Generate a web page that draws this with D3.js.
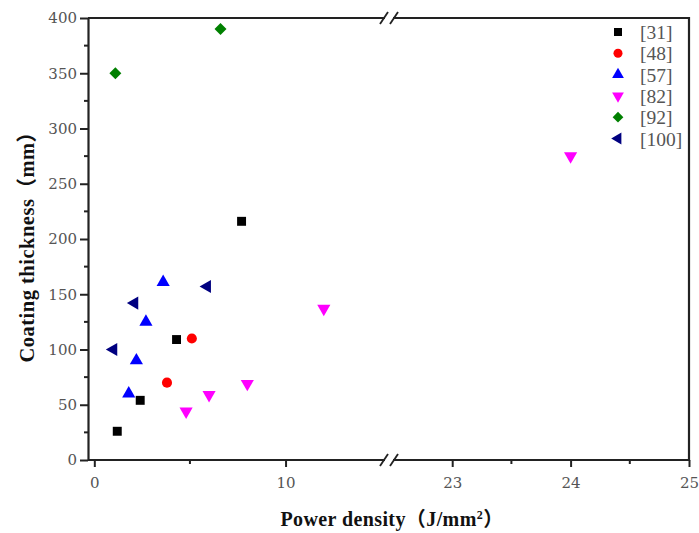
<!DOCTYPE html>
<html><head><meta charset="utf-8">
<script src="https://cdn.jsdelivr.net/npm/d3@7/dist/d3.min.js"></script>
<style>body{margin:0;background:#fff}svg{display:block}</style>
</head><body><svg id="c" width="699" height="533"></svg>
<script>
const seriesNames = ["[31]","[48]","[57]","[82]","[92]","[100]"];
const seriesColors = ["#000000","#ff0000","#0000ff","#ff00ff","#008000","#000080"];
const s31 = [[1.2,26],[2.4,54],[4.3,109],[7.7,216]];
const s48 = [[3.8,70],[5.1,110]];
const s57 = [[1.8,60],[2.2,90],[2.7,125],[3.6,161]];
const s82 = [[4.8,44],[6.0,59],[8.0,69],[12.0,137],[24.0,275]];
const s92 = [[1.1,350],[6.6,390]];
const s100 = [[1.0,100],[2.1,142],[5.9,157]];
const yTicks = [0,50,100,150,200,250,300,350,400];
const xTicksLeft = [0,10];
const xTicksRight = [23,24,25];

(function(){
const allSeries = [s31,s48,s57,s82,s92,s100];
const svg = d3.select("#c");
const pL = 88, pT = 18, pB = 460, pR = 689;
const breakL = 385, breakR = 392;
const xL = d3.scaleLinear().domain([-0.33,15.2]).range([pL,breakL]);
const xR = d3.scaleLinear().domain([22.5,25]).range([393,pR]);
const y = d3.scaleLinear().domain([0,400]).range([pB,pT]);
const xPos = v => v <= 16 ? xL(v) : xR(v);

const tickFont = "'DejaVu Serif', serif";
const gray = "#555";
const titleFont = "'Liberation Serif', 'Noto Sans CJK SC', serif";

const yAxis = d3.axisLeft(y).tickValues(yTicks).tickSize(8).tickSizeOuter(0).tickPadding(3);
const gy = svg.append("g").attr("transform",`translate(${pL},0)`).call(yAxis);
gy.selectAll("text").attr("font-family",tickFont).attr("font-size",15).attr("fill",gray);
gy.selectAll("line").attr("stroke","#222").attr("stroke-width",2);
gy.select(".domain").attr("stroke","#222").attr("stroke-width",2.2);
const yMinor = d3.range(25,400,50);
svg.append("g").selectAll("line").data(yMinor).join("line")
  .attr("x1",pL-4).attr("x2",pL).attr("y1",d=>y(d)).attr("y2",d=>y(d))
  .attr("stroke","#222").attr("stroke-width",2);

function styleX(g){
  g.selectAll("text").attr("font-family",tickFont).attr("font-size",15).attr("fill",gray);
  g.selectAll("line").attr("stroke","#222").attr("stroke-width",2);
  g.select(".domain").remove();
}
const gxl = svg.append("g").attr("transform",`translate(0,${pB})`)
  .call(d3.axisBottom(xL).tickValues(xTicksLeft).tickSize(7).tickPadding(10).tickFormat(d3.format("d")));
styleX(gxl);
const gxr = svg.append("g").attr("transform",`translate(0,${pB})`)
  .call(d3.axisBottom(xR).tickValues(xTicksRight).tickSize(7).tickPadding(10).tickFormat(d3.format("d")));
styleX(gxr);
const xMinor = [5,23.5,24.5];
svg.append("g").selectAll("line").data(xMinor).join("line")
  .attr("x1",d=>xPos(d)).attr("x2",d=>xPos(d)).attr("y1",pB).attr("y2",pB+4)
  .attr("stroke","#222").attr("stroke-width",2);

const frame = svg.append("g").attr("stroke","#222").attr("stroke-width",2.2).attr("fill","none");
[pB, pT].forEach(yy=>{
  frame.append("line").attr("x1",pL).attr("x2",breakL).attr("y1",yy).attr("y2",yy);
  frame.append("line").attr("x1",breakR+1).attr("x2",pR).attr("y1",yy).attr("y2",yy);
  [breakL-1, breakR+2].forEach(bx=>{
    frame.append("line").attr("x1",bx-4).attr("x2",bx+4).attr("y1",yy+6).attr("y2",yy-6).attr("stroke-width",1.8);
  });
});
frame.append("line").attr("x1",pR).attr("x2",pR).attr("y1",pT-1).attr("y2",pB+1);

const shapes = [
  {t:d3.symbolSquare, s:80, r:0},
  {t:d3.symbolCircle, s:80, r:0},
  {t:d3.symbolTriangle, s:75, r:0},
  {t:d3.symbolTriangle, s:75, r:180},
  {t:d3.symbolSquare, s:72, r:45},
  {t:d3.symbolTriangle, s:75, r:-90}
];
allSeries.forEach((data,i)=>{
  const sh = shapes[i];
  svg.append("g").selectAll("path").data(data).join("path")
    .attr("d", d3.symbol().type(sh.t).size(sh.s))
    .attr("transform", d=>`translate(${xPos(d[0])},${y(d[1])}) rotate(${sh.r})`)
    .attr("fill", seriesColors[i]);
});

const lg = svg.append("g");
seriesNames.forEach((n,i)=>{
  const sh = shapes[i];
  const ly = 32 + i*21.3;
  lg.append("path").attr("d", d3.symbol().type(sh.t).size(sh.s*0.8))
    .attr("transform",`translate(618,${ly}) rotate(${sh.r})`).attr("fill",seriesColors[i]);
  lg.append("text").attr("x",640).attr("y",ly).attr("dy","0.36em")
    .attr("font-family","'Liberation Serif', serif").attr("font-size",19.5).attr("fill",gray).text(n);
});

svg.append("text").attr("x",392).attr("y",526).attr("text-anchor","middle")
  .attr("font-family",titleFont).attr("font-weight","bold").attr("font-size",20)
  .attr("letter-spacing","0.4").attr("fill","#111")
  .html('Power density（J/mm<tspan dy="-7" font-size="12">2</tspan><tspan dy="7">）</tspan>');
svg.append("text").attr("transform","translate(34,242) rotate(-90)").attr("text-anchor","middle")
  .attr("font-family",titleFont).attr("font-weight","bold").attr("font-size",20.5)
  .attr("letter-spacing","0.5").attr("fill","#111").text("Coating thickness（mm）");
})();
</script></body></html>
